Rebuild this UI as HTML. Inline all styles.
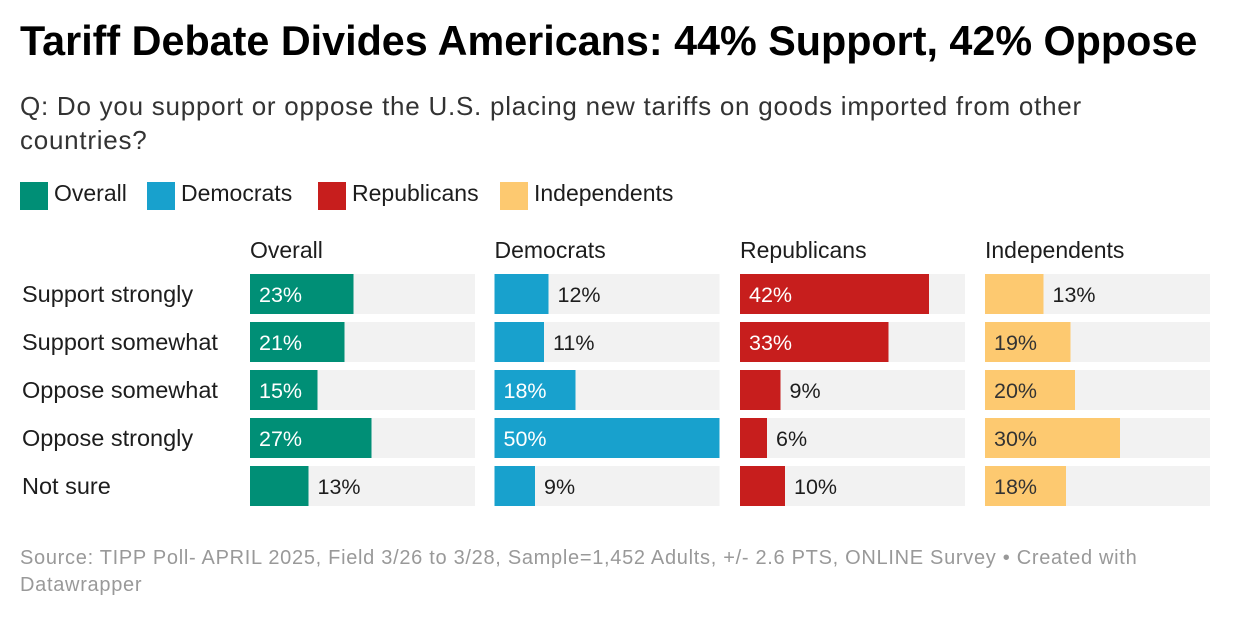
<!DOCTYPE html>
<html><head><meta charset="utf-8"><style>
body{margin:0;width:1240px;height:620px;background:#fff;font-family:"Liberation Sans",Arial,sans-serif;color:#1d1d1d;position:relative;overflow:hidden}
.abs{position:absolute;white-space:nowrap}
</style></head><body>
<div class="abs" style="left:20px;top:18px;font-size:41.3px;font-weight:bold;color:#000">Tariff Debate Divides Americans: 44% Support, 42% Oppose</div>
<div class="abs" style="left:20px;top:89px;font-size:26px;letter-spacing:0.75px;line-height:34px;color:#333">Q: Do you support or oppose the U.S. placing new tariffs on goods imported from other<br>countries?</div>
<div id="legend"></div>
<svg id="chart" width="1240" height="620" style="position:absolute;left:0;top:0"></svg>
<div class="abs" style="left:20px;top:545px;font-size:20px;letter-spacing:0.7px;line-height:27px;color:#999">Source: TIPP Poll- APRIL 2025, Field 3/26 to 3/28, Sample=1,452 Adults, +/- 2.6 PTS, ONLINE Survey • Created with<br>Datawrapper</div>
<script>
const categories=["Support strongly","Support somewhat","Oppose somewhat","Oppose strongly","Not sure"];
const groups=["Overall","Democrats","Republicans","Independents"];
const overall=[23,21,15,27,13];
const democrats=[12,11,18,50,9];
const republicans=[42,33,9,6,10];
const independents=[13,19,20,30,18];
const colors=["#008f76","#18a1cd","#c71e1d","#fdc970"];
const textColors=["#fff","#fff","#fff","#333"];
const series=[overall,democrats,republicans,independents];
const NS="http://www.w3.org/2000/svg";
const svg=document.getElementById('chart');
const panelX=[250,494.5,740,985],panelW=225,domainMax=50;
const xs=v=>v/domainMax*panelW;
const rowY=i=>274+i*48,barH=40;
function mk(tag,attrs){const e=document.createElementNS(NS,tag);for(const k in attrs)e.setAttribute(k,attrs[k]);svg.appendChild(e);return e;}
categories.forEach((c,i)=>{const t=mk('text',{x:22,y:rowY(i)+28,'font-size':23.5,fill:'#1d1d1d'});t.textContent=c;

});
groups.forEach((g,gi)=>{
 const h=mk('text',{x:panelX[gi],y:258,'font-size':23,fill:'#1d1d1d'});h.textContent=g;
 
 
 series[gi].forEach((v,i)=>{
  const bg=mk('rect',{x:panelX[gi],y:rowY(i),width:panelW,height:barH,fill:'#f2f2f2'});
  
  
  const w=xs(v);
  const r=mk('rect',{x:panelX[gi],y:rowY(i),width:w,height:barH,fill:colors[gi]});
  
  
  const inside=v>=15;
  const t=mk('text',{x:inside?panelX[gi]+9:panelX[gi]+w+9,y:rowY(i)+28,'font-size':21.5,fill:inside?textColors[gi]:'#1d1d1d'});
  t.textContent=v+'%';
  
  
 });
});
const lg=document.getElementById('legend');
const lx=[20,147,318,500];
groups.forEach((g,gi)=>{
 const sw=document.createElement('div');sw.className='abs';
 sw.style.cssText=`left:${lx[gi]}px;top:182px;width:28px;height:28px;background:${colors[gi]}`;
 
 
 lg.appendChild(sw);
 const t=document.createElement('div');t.className='abs';
 t.style.cssText=`left:${lx[gi]+34}px;top:180px;font-size:23px;color:#1d1d1d`;
 t.textContent=g;
 
 
 lg.appendChild(t);
});
</script>
</body></html>
